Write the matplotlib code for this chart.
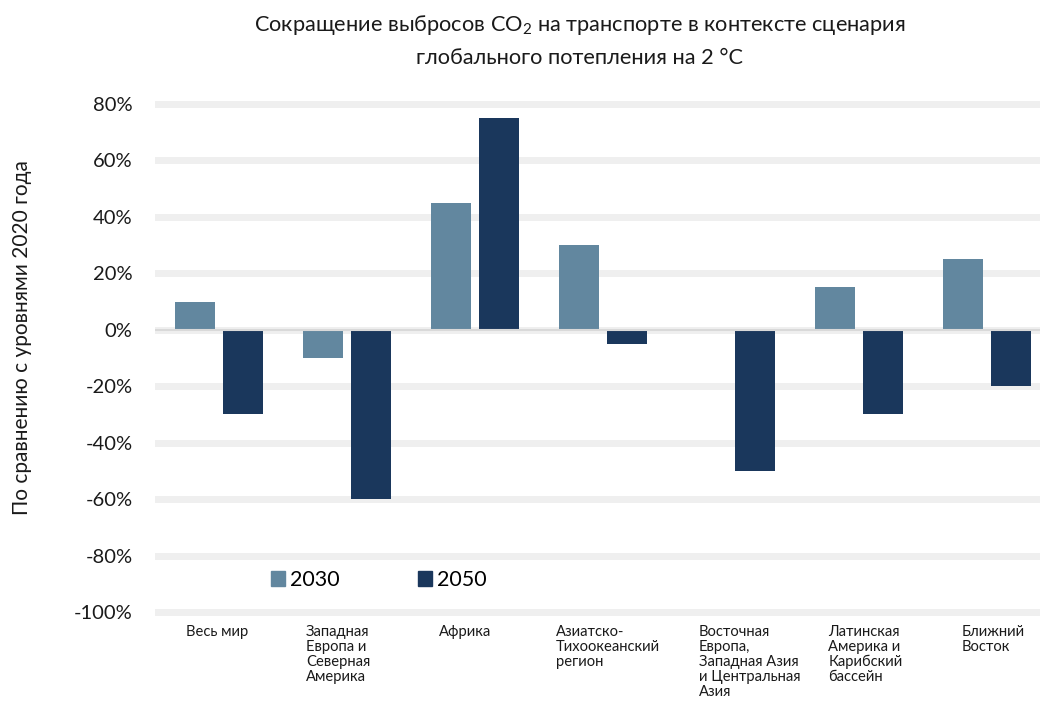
import numpy as np
import matplotlib
matplotlib.use('Agg')
import matplotlib.pyplot as plt
from matplotlib.patches import Patch

plt.rcParams['font.family'] = ['Lato', 'Open Sans', 'DejaVu Sans']
plt.rcParams['mathtext.fontset'] = 'custom'
plt.rcParams['mathtext.rm'] = 'Lato'
plt.rcParams['mathtext.it'] = 'Lato'

# --- данные ---
regions = [
    'Весь мир',
    'Западная\nЕвропа и\nСеверная\nАмерика',
    'Африка',
    'Азиатско-\nТихоокеанский\nрегион',
    'Восточная\nЕвропа,\nЗападная Азия\nи Центральная\nАзия',
    'Латинская\nАмерика и\nКарибский\nбассейн',
    'Ближний\nВосток',
]
values_2030 = [10, -10, 45, 30, 0, 15, 25]
values_2050 = [-30, -60, 75, -5, -50, -30, -20]
series_names = ['2030', '2050']
y_ticks = [80, 60, 40, 20, 0, -20, -40, -60, -80, -100]

# сдвиг подписей категорий (доля ширины группы)
label_shift = [-0.26, -0.32, -0.28, -0.37, -0.25, -0.24, -0.20]

col_2030 = '#62879f'
col_2050 = '#1a375c'

fig = plt.figure(figsize=(10.4, 7.04), dpi=100)
ax = fig.add_axes([0.149, 0.1227, 0.8615, 0.7375])

x = np.arange(len(regions))
w = 0.3125
off = 0.1875

for y in y_ticks:
    ax.axhline(y, color='#efefef', lw=5, zorder=0)
ax.axhline(0, color='#d9d9d9', lw=1.5, zorder=3)

ax.bar(x - off, values_2030, w, color=col_2030, zorder=2)
ax.bar(x + off, values_2050, w, color=col_2050, zorder=2)

ax.set_xlim(-0.5, len(regions) - 0.5)
ax.set_ylim(-102, 82)
ax.set_yticks(y_ticks)
ax.set_yticklabels([f'{v}%' for v in y_ticks], fontsize=14.5, color='#1a1a1a')
ax.set_xticks([])
ax.tick_params(axis='y', length=0, pad=16)
for s in ax.spines.values():
    s.set_visible(False)

for xi, lab, sh in zip(x, regions, label_shift):
    ax.text(xi + sh, -104.5, lab, ha='left', va='top', fontsize=10.6,
            linespacing=1.1, color='#1a1a1a', clip_on=False)

ax.set_ylabel('По сравнению с уровнями 2020 года', fontsize=15,
              color='#1a1a1a', labelpad=30)
ax.yaxis.label.set_y(0.54)

fig.text(0.557, 0.965, 'Сокращение выбросов CO$_2$ на транспорте в контексте сценария',
         ha='center', va='center', fontsize=15.7, color='#1a1a1a')
fig.text(0.557, 0.918, 'глобального потепления на 2 °C',
         ha='center', va='center', fontsize=15.7, color='#1a1a1a')

handles = [Patch(color=col_2030), Patch(color=col_2050)]
ax.legend(handles, series_names, loc='center left', bbox_to_anchor=(0.108, 0.072),
          ncol=2, frameon=False, fontsize=15.5, handlelength=0.65, handleheight=0.65,
          handletextpad=0.25, columnspacing=3.6)

fig.savefig('out.png', dpi=100)
plt.close(fig)
